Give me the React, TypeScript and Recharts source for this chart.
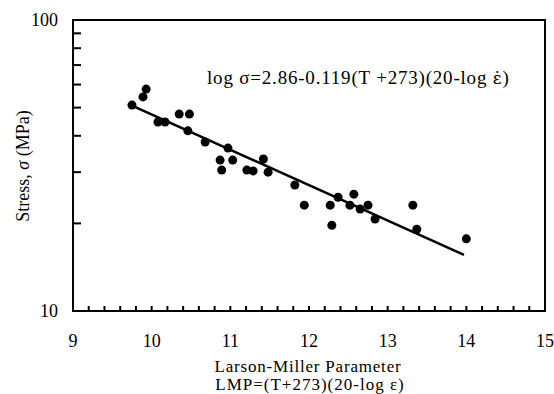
import { ComposedChart, Customized, Line, ReferenceArea, Scatter, XAxis, YAxis } from "recharts";

// measured points (LMP vs stress, MPa)
const lmpValues = [
  9.75, 9.89, 9.93, 10.08, 10.17, 10.35, 10.48, 10.46, 10.68, 10.97,
  10.87, 10.89, 11.03, 11.21, 11.29, 11.42, 11.48, 11.82, 11.94, 12.27,
  12.29, 12.37, 12.57, 12.52, 12.65, 12.75, 12.84, 13.32, 13.37, 14.0,
];
const stressValues = [
  51.0, 54.4, 57.9, 44.6, 44.6, 47.5, 47.5, 41.6, 38.1, 36.3,
  33.0, 30.5, 33.0, 30.5, 30.3, 33.3, 30.0, 27.1, 23.1, 23.1,
  19.7, 24.6, 25.2, 23.1, 22.4, 23.1, 20.7, 23.1, 19.1, 17.7,
];

// fitted line end points
const fitLmp = [9.7, 13.97];
const fitStress = [51.5, 15.6];

const xTicks = [
  9, 9.2, 9.4, 9.6, 9.8, 10, 10.2, 10.4, 10.6, 10.8, 11, 11.2, 11.4, 11.6, 11.8,
  12, 12.2, 12.4, 12.6, 12.8, 13, 13.2, 13.4, 13.6, 13.8, 14, 14.2, 14.4, 14.6, 14.8, 15,
];
const xLabels = [9, 10, 11, 12, 13, 14, 15];
const yTicks = [10, 20, 30, 40, 50, 60, 70, 80, 90, 100];
const yLabels = [10, 100];

const points = lmpValues.map((x, i) => ({ x, y: stressValues[i] }));
const fit = fitLmp.map((x, i) => ({ x, y: fitStress[i] }));

const FONT = "Liberation Serif, Times New Roman, serif";
const LEFT = 73;
const TOP = 20;
const BOTTOM = 311;

function XTick({ x, payload }: any) {
  const v = payload.value;
  return (
    <g>
      <line x1={x} x2={x} y1={BOTTOM} y2={BOTTOM - 5} stroke="#000" strokeWidth={2} />
      {xLabels.includes(v) && (
        <text x={x} y={347} textAnchor="middle" fontSize={18} fontFamily={FONT} fill="#000">
          {v}
        </text>
      )}
    </g>
  );
}

function YTick({ y, payload }: any) {
  const v = payload.value;
  return (
    <g>
      <line x1={LEFT} x2={LEFT + 8} y1={y} y2={y} stroke="#000" strokeWidth={2} />
      {yLabels.includes(v) && (
        <text x={LEFT - 15} y={y + 6} textAnchor="end" fontSize={18} fontFamily={FONT} fill="#000">
          {v}
        </text>
      )}
    </g>
  );
}

function Dot({ cx, cy }: any) {
  return <ellipse cx={cx} cy={cy} rx={4.5} ry={4.5} fill="#000" />;
}

function Texts() {
  return (
    <g fill="#000">
      <text x={207} y={84} fontSize={19} fontFamily={FONT} style={{ letterSpacing: "0.8px" }}>
        log σ=2.86-0.119(T +273)(20-log <tspan fontFamily="DejaVu Serif" fontSize={17}>ε̇</tspan>)
      </text>
      <text transform="rotate(-90)" x={-166} y={29} textAnchor="middle" fontSize={18} fontFamily={FONT}>
        Stress, <tspan fontStyle="italic">σ</tspan> (MPa)
      </text>
      <text x={308} y={372} textAnchor="middle" fontSize={17} fontFamily={FONT} style={{ letterSpacing: "0.8px" }}>
        Larson-Miller Parameter
      </text>
      <text x={310} y={390} textAnchor="middle" fontSize={17} fontFamily={FONT} style={{ letterSpacing: "1px" }}>
        LMP=(T+273)(20-log ε)
      </text>
    </g>
  );
}

export default function App() {
  return (
    <div style={{ position: "absolute", left: 0, top: 0, background: "#fff" }}>
      <ComposedChart width={554} height={394} margin={{ top: TOP, right: 9, left: 0, bottom: 0 }}>
        <XAxis
          type="number"
          dataKey="x"
          domain={[9, 15]}
          ticks={xTicks}
          interval={0}
          allowDataOverflow
          height={83}
          axisLine={{ stroke: "#000", strokeWidth: 2 }}
          tickLine={false}
          tick={<XTick />}
        />
        <YAxis
          type="number"
          dataKey="y"
          scale="log"
          domain={[10, 100]}
          ticks={yTicks}
          interval={0}
          allowDataOverflow
          width={73}
          axisLine={{ stroke: "#000", strokeWidth: 2 }}
          tickLine={false}
          tick={<YTick />}
        />
        <ReferenceArea x1={9} x2={15} y1={10} y2={100} fill="none" stroke="#000" strokeWidth={2} ifOverflow="visible" />
        <Line
          data={fit}
          dataKey="y"
          type="linear"
          stroke="#000"
          strokeWidth={2.5}
          dot={false}
          activeDot={false}
          isAnimationActive={false}
        />
        <Scatter data={points} dataKey="y" fill="#000" shape={<Dot />} isAnimationActive={false} />
        <Customized component={<Texts />} />
      </ComposedChart>
    </div>
  );
}
